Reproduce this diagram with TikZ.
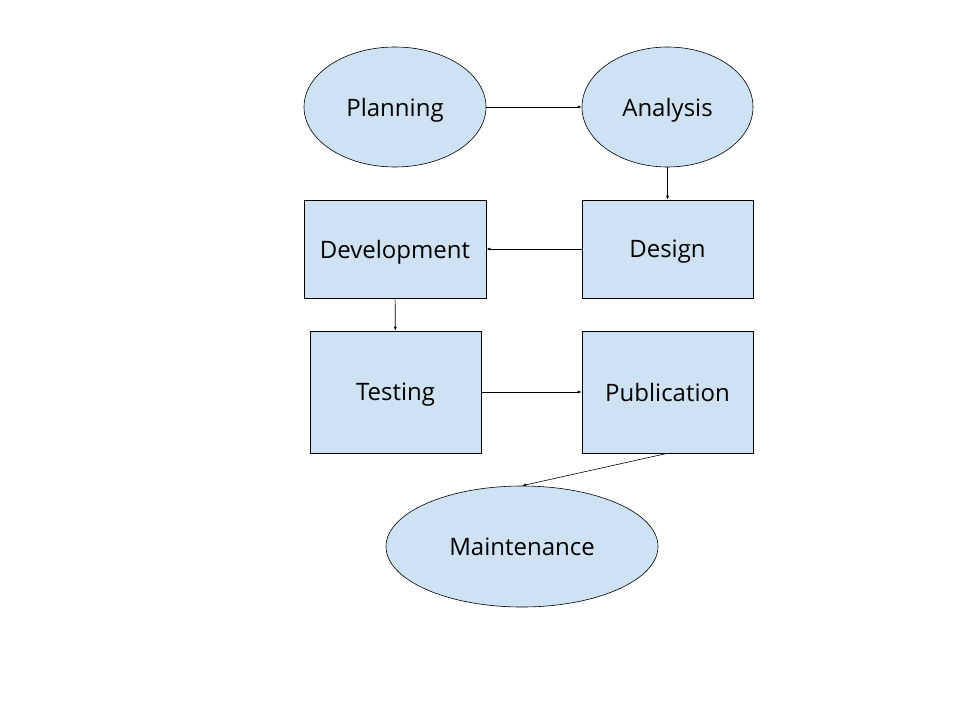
\documentclass[tikz,border=0pt]{standalone}
\usepackage{fontspec}
\setmainfont{Open Sans}
\usetikzlibrary{shapes.geometric,arrows.meta}
\definecolor{boxblue}{HTML}{CFE2F3}
\begin{document}
\begin{tikzpicture}[x=1pt, y=-1pt,
    stage/.style = {draw, fill=boxblue, line width=0.6pt, inner sep=0pt, text depth=0pt, font=\fontsize{24}{28}\selectfont},
    oval/.style = {stage, ellipse},
    box/.style = {stage, rectangle},
    flow/.style = {-{Latex[length=4pt,width=3pt]}, line width=0.6pt}]
    \useasboundingbox (0,0) rectangle (960,720);
    \node[oval, minimum width=182pt, minimum height=120pt] (planning) at (395,107) {Planning};
    \node[oval, minimum width=171pt, minimum height=120pt] (analysis) at (667.5,107) {Analysis};
    \node[box, minimum width=182pt, minimum height=98pt] (development) at (395,249) {Development};
    \node[box, minimum width=171pt, minimum height=98pt] (design) at (667.5,249) {Design};
    \node[box, minimum width=171pt, minimum height=122pt] (testing) at (395.5,392) {Testing};
    \node[box, minimum width=171pt, minimum height=122pt] (publication) at (667.5,392) {Publication};
    \node[oval, minimum width=272pt, minimum height=121pt] (maintenance) at (522,546.5) {Maintenance};
    % connectors
    \draw[flow] (planning) -- (analysis);
    \draw[flow] (analysis) -- (design);
    \draw[flow] (design) -- (development);
    \draw[flow] (development) -- (testing);
    \draw[flow] (testing) -- (publication);
    \draw[flow] (publication.south) -- (maintenance.north);
\end{tikzpicture}
\end{document}
